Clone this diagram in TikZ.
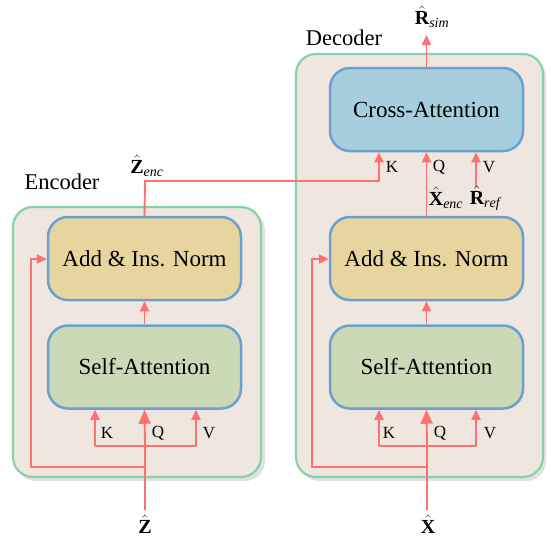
\documentclass[tikz,border=0pt]{standalone}
\usepackage{fontspec}
\setmainfont{Liberation Serif}
\usetikzlibrary{arrows.meta}
\definecolor{outerfill}{RGB}{239,230,224}
\definecolor{outerline}{RGB}{134,212,166}
\definecolor{boxline}{RGB}{108,160,206}
\definecolor{normfill}{RGB}{231,213,160}
\definecolor{safill}{RGB}{203,217,182}
\definecolor{cafill}{RGB}{166,206,220}
\definecolor{arrowred}{RGB}{255,112,112}
\definecolor{shadowgray}{RGB}{225,225,225}
\tikzset{
  outerbox/.style={draw=outerline, fill=outerfill, line width=2.2pt, rounded corners=20pt},
  shadowbox/.style={fill=shadowgray, rounded corners=20pt},
  block/.style={draw=boxline, line width=2.5pt, rounded corners=20pt, inner sep=0pt,
    minimum width=193pt, minimum height=83pt, font=\fontsize{23}{26}\selectfont},
  flow/.style={draw=arrowred, line width=1.9pt},
  bigtip/.style={-{Triangle[length=14pt,width=12pt]}},
  smalltip/.style={-{Triangle[length=10pt,width=9pt]}},
  kqv/.style={font=\fontsize{17}{19}\selectfont},
  title/.style={font=\fontsize{22.5}{25}\selectfont},
  var/.style={font=\fontsize{20}{22}\selectfont}
}
\begin{document}
\begin{tikzpicture}[x=1pt,y=-1pt]
\useasboundingbox (0,0) rectangle (551,542);
% outer boxes
\fill[shadowbox] (16,210) rectangle (265,481);
\draw[outerbox] (13,207) rectangle (261,477);
\fill[shadowbox] (299,57) rectangle (546,481);
\draw[outerbox] (296,54) rectangle (543,477);
\node[title] (enctitle) at (62,182) {Encoder};
\node[title] (dectitle) at (344,38) {Decoder};
% blocks
\node[block, fill=normfill] (enorm) at (144.5,258.5) {Add \& Ins. Norm};
\node[block, fill=safill] (esa) at (144.5,367) {Self-Attention};
\node[block, fill=normfill] (dnorm) at (426.5,258.5) {Add \& Ins. Norm};
\node[block, fill=safill] (dsa) at (426.5,367) {Self-Attention};
\node[block, fill=cafill] (dca) at (426.5,109.5) {Cross-Attention};
% coordinates encoder
\coordinate (zin) at (145,510);
\coordinate (ekv) at (145,446);
\coordinate (ek) at (95,446);
\coordinate (ev) at (196,446);
\coordinate (eloop) at (145,467);
\coordinate (eloopl) at (31,467);
\coordinate (eloopt) at (31,259);
\coordinate (zenc) at (145,181);
\coordinate (ck) at (379,181);
% coordinates decoder
\coordinate (xin) at (427,510);
\coordinate (dk) at (379,446);
\coordinate (dv) at (476,446);
\coordinate (dloop) at (427,467);
\coordinate (dloopl) at (312,467);
\coordinate (dloopt) at (312,259);
\coordinate (rref) at (476,187);
\coordinate (rsim) at (426.5,35);
% encoder flows
\draw[flow] (zin) -- (ekv);
\draw[flow, bigtip] (ekv) -- (esa.south);
\draw[flow, smalltip] (ek) -- (ek |- esa.south);
\draw[flow, smalltip] (ev) -- (ev |- esa.south);
\draw[flow] (ek) -- (ev);
\draw[flow, smalltip] (eloop) -- (eloopl) -- (eloopt) -- (enorm.west |- eloopt);
\draw[flow, smalltip] (esa.north) -- (enorm.south);
\draw[flow, smalltip] (enorm.north) -- (zenc) -- (ck) -- (ck |- dca.south);
% decoder flows
\draw[flow] (xin) -- (dloop |- dk);
\draw[flow, bigtip] (dloop |- dk) -- (dsa.south);
\draw[flow, smalltip] (dk) -- (dk |- dsa.south);
\draw[flow, smalltip] (dv) -- (dv |- dsa.south);
\draw[flow] (dk) -- (dv);
\draw[flow, smalltip] (dloop) -- (dloopl) -- (dloopt) -- (dnorm.west |- dloopt);
\draw[flow, smalltip] (dsa.north) -- (dnorm.south);
\draw[flow, smalltip] (dnorm.north) -- (dca.south);
\draw[flow, smalltip] (rref) -- (rref |- dca.south);
\draw[flow, smalltip] (dca.north) -- (rsim);
% labels
\node[kqv] (ekl) at (107,433) {K};
\node[kqv] (eql) at (158,433) {Q};
\node[kqv] (evl) at (209,433) {V};
\node[kqv] (dkl) at (389,433) {K};
\node[kqv] (dql) at (440,433) {Q};
\node[kqv] (dvl) at (490,433) {V};
\node[kqv] (ckl) at (392,167) {K};
\node[kqv] (cql) at (439,167) {Q};
\node[kqv] (cvl) at (489,167) {V};
\node[var] (zlab) at (145,524) {$\hat{\mathbf{Z}}$};
\node[var] (xlab) at (428,524) {$\hat{\mathbf{X}}$};
\node[var] (zenclab) at (147,166) {$\hat{\mathbf{Z}}_{\mathit{enc}}$};
\node[var] (xenclab) at (446,198) {$\hat{\mathbf{X}}_{\mathit{enc}}$};
\node[var] (rreflab) at (485,198) {$\hat{\mathbf{R}}_{\mathit{ref}}$};
\node[var] (rsimlab) at (432,17) {$\hat{\mathbf{R}}_{\mathit{sim}}$};
\end{tikzpicture}
\end{document}
